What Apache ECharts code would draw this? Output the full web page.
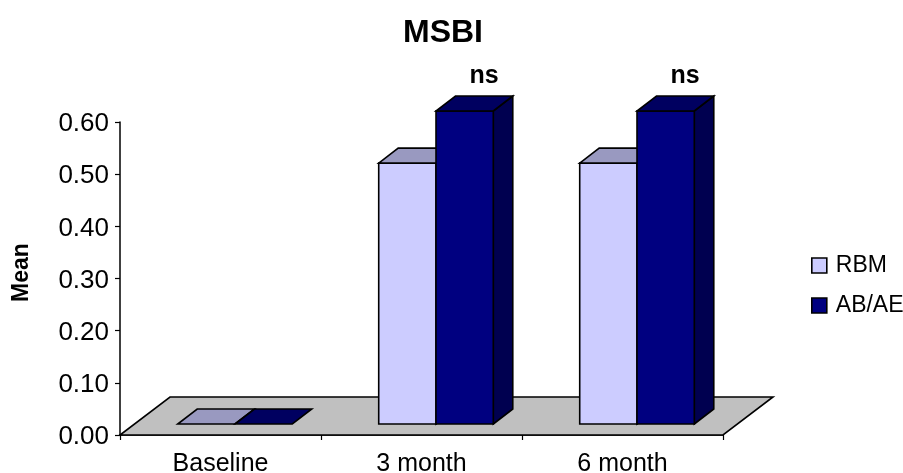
<!DOCTYPE html>
<html>
<head>
<meta charset="utf-8">
<style>html,body{margin:0;padding:0;background:#fff}#c{width:903px;height:473px}</style>
<script src="https://cdn.jsdelivr.net/npm/echarts@6/dist/echarts.min.js"></script>
</head>
<body>
<div id="c"></div>
<script>
const categories = ['Baseline', '3 month', '6 month'];
const rbm = [0, 0.5, 0.5];
const abAe = [0, 0.6, 0.6];
const significance = ['', 'ns', 'ns'];

const FONT = '"Liberation Sans", Arial, sans-serif';
// Oblique projection used for the pseudo-3D floor and columns
const FLOOR_DX = 50, FLOOR_DY = 38;
const INSET_DX = 14.5, INSET_DY = 11;
const DEPTH_DX = 19.5, DEPTH_DY = 15;
const BAR_RATIO = 0.285;
const EDGE = { stroke: '#000', lineWidth: 1.6, lineJoin: 'miter' };

function poly(points, fill) {
  return { type: 'polygon', shape: { points }, style: Object.assign({ fill }, EDGE) };
}

function floorItem(params, api) {
  const a = api.coord([0, 0]);
  const b = api.coord([categories.length - 1, 0]);
  const band = api.size([1, 0])[0];
  const l = a[0] - band / 2, r = b[0] + band / 2, y = a[1];
  return poly([[l, y], [r, y], [r + FLOOR_DX, y - FLOOR_DY], [l + FLOOR_DX, y - FLOOR_DY]], '#c0c0c0');
}

function columnItem(side, front, top, dark, notes) {
  return function (params, api) {
    const i = api.value(0), v = api.value(1);
    const w = api.size([1, 0])[0] * BAR_RATIO;
    const cx = api.coord([i, 0])[0] + INSET_DX;
    const x0 = side < 0 ? cx - w : cx, x1 = x0 + w;
    const yb = api.coord([i, 0])[1] - INSET_DY;
    const yt = api.coord([i, v])[1] - INSET_DY;
    const children = [];
    if (v > 0) {
      children.push(poly([[x1, yb], [x1 + DEPTH_DX, yb - DEPTH_DY], [x1 + DEPTH_DX, yt - DEPTH_DY], [x1, yt]], dark));
      children.push(poly([[x0, yb], [x1, yb], [x1, yt], [x0, yt]], front));
    }
    children.push(poly([[x0, yt], [x1, yt], [x1 + DEPTH_DX, yt - DEPTH_DY], [x0 + DEPTH_DX, yt - DEPTH_DY]], top));
    if (notes && notes[i]) {
      children.push({
        type: 'text',
        style: {
          x: (x0 + x1) / 2 + DEPTH_DX, y: yt - DEPTH_DY - 20, text: notes[i],
          fill: '#000', font: 'bold 25px ' + FONT, align: 'center', verticalAlign: 'middle'
        }
      });
    }
    return { type: 'group', children };
  };
}

const chart = echarts.init(document.getElementById('c'), null, { renderer: 'canvas' });
chart.setOption({
  animation: false,
  backgroundColor: '#fff',
  title: {
    text: 'MSBI', left: 443, top: 17, textAlign: 'center', padding: 0,
    textStyle: { fontFamily: FONT, fontSize: 32, fontWeight: 'bold', color: '#000' }
  },
  legend: {
    orient: 'vertical', left: 811, top: 254, padding: 0, itemWidth: 15, itemHeight: 15, itemGap: 17,
    icon: 'rect', data: ['RBM', 'AB/AE'],
    itemStyle: { borderColor: '#000', borderWidth: 1.6 },
    textStyle: { fontFamily: FONT, fontSize: 23, color: '#000', padding: [0, 0, 0, 4] }
  },
  grid: { left: 120, top: 122, width: 603, height: 313, outerBoundsMode: 'none' },
  xAxis: {
    type: 'category', data: categories,
    axisLine: { lineStyle: { color: '#000', width: 1.5 } },
    axisTick: { show: true, length: 5, lineStyle: { color: '#000', width: 1.2 } },
    axisLabel: { fontFamily: FONT, fontSize: 25, color: '#000', margin: 17 }
  },
  yAxis: {
    type: 'value', min: 0, max: 0.6, interval: 0.1,
    name: 'Mean', nameLocation: 'middle', nameGap: 87, nameRotate: 90,
    nameTextStyle: { fontFamily: FONT, fontSize: 23, fontWeight: 'bold', color: '#000', padding: [0, 0, 0, 12] },
    splitLine: { show: false },
    axisLine: { show: true, lineStyle: { color: '#000', width: 1.5 } },
    axisTick: { show: true, length: 5, lineStyle: { color: '#000', width: 1.2 } },
    axisLabel: {
      color: '#000', margin: 11,
      formatter: v => '{t|' + v.toFixed(2) + '}',
      rich: { t: { fontFamily: FONT, fontSize: 26, color: '#000', padding: [4, 0, 0, 0] } }
    }
  },
  series: [
    { type: 'custom', name: 'floor', data: [[0, 0]], renderItem: floorItem, z: 1, silent: true },
    {
      type: 'custom', name: 'RBM', itemStyle: { color: '#ccccff' }, z: 2,
      encode: { x: 0, y: 1 },
      data: rbm.map((v, i) => [i, v]),
      renderItem: columnItem(-1, '#ccccff', '#9999c0', '#8080a8')
    },
    {
      type: 'custom', name: 'AB/AE', itemStyle: { color: '#000080' }, z: 3,
      encode: { x: 0, y: 1 },
      data: abAe.map((v, i) => [i, v]),
      renderItem: columnItem(1, '#000080', '#000060', '#000050', significance)
    }
  ]
});
</script>
</body>
</html>
